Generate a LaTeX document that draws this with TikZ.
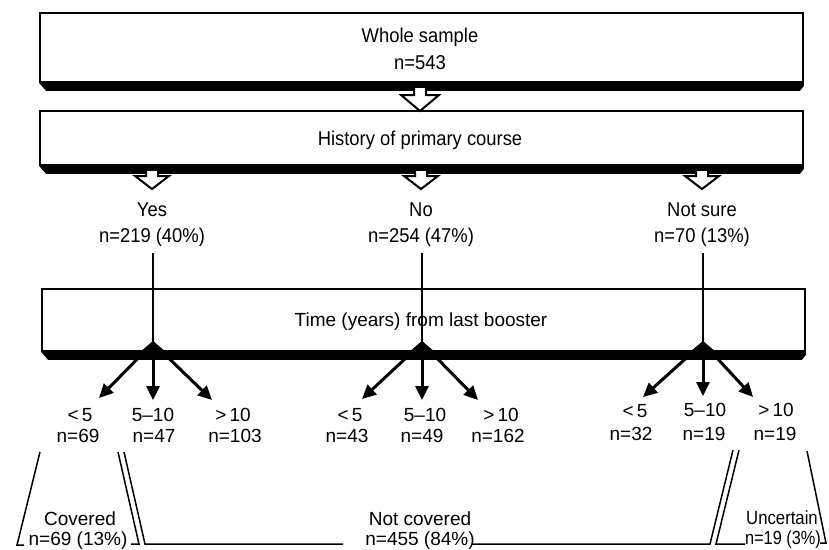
\documentclass[tikz,border=0pt]{standalone}
\usepackage{fontspec}
\usepackage{graphicx}
\setmainfont{Liberation Sans}
\newfontfamily\condfont[FakeStretch=0.92]{Liberation Sans}
\usetikzlibrary{arrows.meta,calc}
\begin{document}
\begin{tikzpicture}[x=1pt,y=-1pt,
  boxst/.style={draw, line width=1.8pt, fill=white, inner sep=0pt},
  hollow/.style={draw, line width=2pt, fill=white, line join=miter},
  toplab/.style={font=\condfont\fontsize{20}{22}\selectfont, inner sep=0pt},
  lowlab/.style={font=\fontsize{19}{21}\selectfont, inner sep=0pt},
  stem/.style={line width=2pt},
  fan/.style={line width=3pt, -{Triangle[length=14pt,width=13pt]}},
  brk/.style={line width=1.5pt},
]
\useasboundingbox (0,0) rectangle (829,549);
% boxes
\node[boxst, minimum width=763pt, minimum height=69pt] (box1) at (421.5,47.5) {};
\node[boxst, minimum width=763pt, minimum height=54pt] (box2) at (421.5,138) {};
\node[boxst, minimum width=763pt, minimum height=62pt] (box3) at (423.5,320) {};
\foreach \b in {box1,box2,box3}{
  \fill (\b.south west) -- (\b.south east) -- ++(0,3) -- ++(-4,5) -- ($(\b.south west)+(7,8)$) -- cycle;
}
% box texts
\node[toplab] (whole) at (420,37) {Whole sample};
\node[toplab] (n543) at (420,63) {n=543};
\node[toplab] (hist) at (420,140) {History of primary course};
\node[lowlab] (time) at (421,322) {Time (years) from last booster};
% hollow arrows
\coordinate (t0) at (420,111);
\draw[hollow] ($(t0)+(-6,-23)$) -- ++(0,7) -- ++(-13,0) -- (t0) -- ++(19,-16) -- ++(-13,0) -- ++(0,-7);
\foreach \x/\n in {152/ta,421/tb,702/tc}{
  \coordinate (\n) at (\x,189);
  \draw[hollow] ($(\n)+(-6,-18)$) -- ++(0,5) -- ++(-11,0) -- (\n) -- ++(17,-13) -- ++(-11,0) -- ++(0,-5);
}
% category labels
\node[toplab] (yes) at (152,210) {Yes};
\node[toplab] (yesn) at (152,237) {n=219 (40\%)};
\node[toplab] (no) at (421,210) {No};
\node[toplab] (non) at (421,237) {n=254 (47\%)};
\node[toplab] (ns) at (702,210) {Not sure};
\node[toplab] (nsn) at (702,237) {n=70 (13\%)};
% apexes
\coordinate (ax) at (153,343);
\coordinate (bx) at (422,343);
\coordinate (cx) at (703,343);
\draw[stem] (153,253) -- (ax);
\draw[stem] (422,253) -- (bx);
\draw[stem] (703,253) -- (cx);
\foreach \a in {ax,bx,cx}{
  \fill ($(\a)+(0,-2)$) -- ($(\a)+(-13,9)$) -- ($(\a)+(13,9)$) -- cycle;
}
% fan tips
\coordinate (a1) at (99,398);
\coordinate (a2) at (153,400);
\coordinate (a3) at (212,400);
\coordinate (b1) at (362,399);
\coordinate (b2) at (422,400);
\coordinate (b3) at (478,400);
\coordinate (c1) at (643,397);
\coordinate (c2) at (703,396);
\coordinate (c3) at (753,397);
\foreach \a/\t in {ax/a1,ax/a2,ax/a3,bx/b1,bx/b2,bx/b3,cx/c1,cx/c2,cx/c3}{
  \draw[fan] (\a) -- (\t);
}
% lower labels
\node[lowlab] (l1) at (80,415) {<\thinspace5};
\node[lowlab] (m1) at (78,436) {n=69};
\node[lowlab] (l2) at (153,415) {5–10};
\node[lowlab] (m2) at (154,436) {n=47};
\node[lowlab] (l3) at (233,415) {>\thinspace10};
\node[lowlab] (m3) at (235,436) {n=103};
\node[lowlab] (l4) at (350,415) {<\thinspace5};
\node[lowlab] (m4) at (347,436) {n=43};
\node[lowlab] (l5) at (425,415) {5–10};
\node[lowlab] (m5) at (422,436) {n=49};
\node[lowlab] (l6) at (501,415) {>\thinspace10};
\node[lowlab] (m6) at (498,436) {n=162};
\node[lowlab] (l7) at (635,411) {<\thinspace5};
\node[lowlab] (m7) at (631,434) {n=32};
\node[lowlab] (l8) at (705,410) {5–10};
\node[lowlab] (m8) at (704,434) {n=19};
\node[lowlab] (l9) at (776,410) {>\thinspace10};
\node[lowlab] (m9) at (775,434) {n=19};
% bottom groups
\node[lowlab] (cov) at (80,519) {Covered};
\node[lowlab] (covn) at (78,541) {n=69 (13\%)};
\node[lowlab] (ncov) at (420,519) {Not covered};
\node[lowlab] (ncovn) at (420,541) {n=455 (84\%)};
\node[lowlab] (unc) at (782,518) {\scalebox{0.88}[1]{Uncertain}};
\node[lowlab] (uncn) at (783,540) {\scalebox{0.86}[1]{n=19 (3\%)}};
% brackets
\draw[brk] (40,452) -- (17,545) -- (24,545);
\draw[brk] (131,544) -- (139,544) -- (118,452);
\draw[brk] (124,452) -- (145,544) -- (343,544);
\draw[brk] (472,544) -- (710,544) -- (733,450);
\draw[brk] (739,450) -- (716,544) -- (745,544);
\draw[brk] (820,543) -- (826,543) -- (807,451);
\end{tikzpicture}
\end{document}
